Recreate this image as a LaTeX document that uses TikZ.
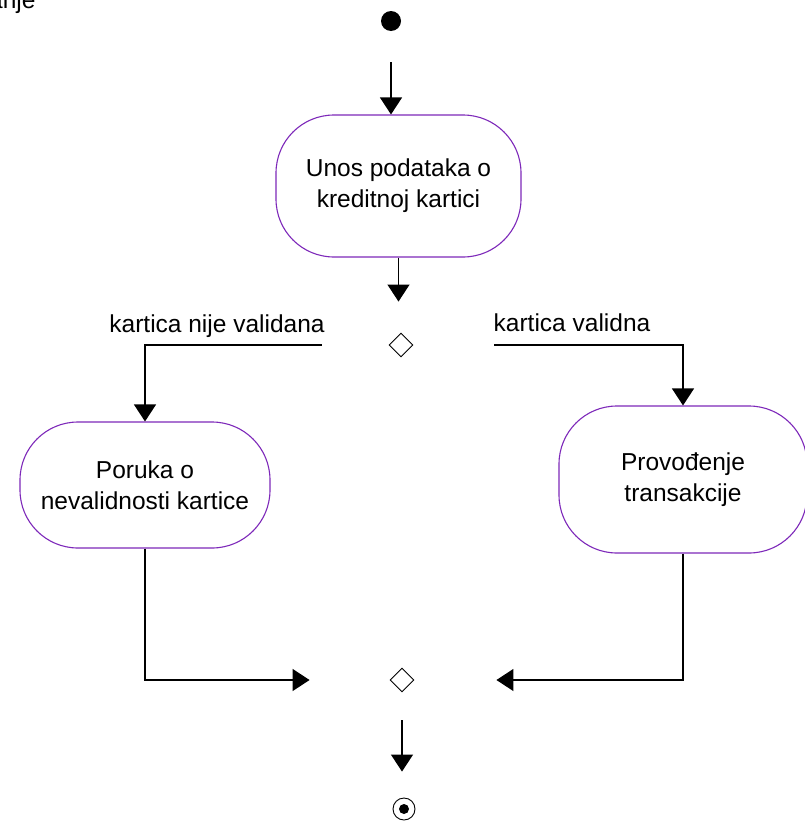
\documentclass[tikz,border=0pt]{standalone}
\usepackage{fontspec}
\setmainfont{Liberation Sans}
\usetikzlibrary{arrows.meta,shapes.geometric}
\definecolor{actborder}{RGB}{125,40,185}
\begin{document}
\begin{tikzpicture}[x=1pt,y=-1pt,
  activity/.style={draw=actborder,line width=1.1pt,rounded corners=58pt,align=center,font=\fontsize{24.5}{31}\selectfont,inner sep=0pt},
  flow/.style={draw=black,line width=1.2pt,-{Triangle[length=17pt,width=22pt]}},
  decision/.style={draw=black,diamond,line width=0.9pt,minimum width=24pt,minimum height=24pt,inner sep=0pt},
  lbl/.style={font=\fontsize{24.5}{30}\selectfont,inner sep=0pt}]
\useasboundingbox (0,0) rectangle (805,822);
\node[lbl,anchor=base west] (title) at (-11,8) {anje};
\node[circle,fill=black,minimum size=20pt,inner sep=0pt] (start) at (391,21) {};
\node[activity,minimum width=245pt,minimum height=142pt] (n1) at (398.5,186) {Unos podataka o\\kreditnoj kartici};
\node[decision] (d1) at (401,345) {};
\node[activity,minimum width=250pt,minimum height=126pt] (n2) at (145,485) {Poruka o\\nevalidnosti kartice};
\node[activity,minimum width=248pt,minimum height=147pt] (n3) at (683,479.5) {Provođenje\\transakcije};
\node[decision] (d2) at (402,680) {};
\node[circle,draw=black,line width=0.9pt,minimum size=22pt,inner sep=0pt] (end) at (404,809) {};
\node[circle,fill=black,minimum size=10pt,inner sep=0pt] (endin) at (end) {};
\node[lbl] (lno) at (217,326) {kartica nije validana};
\node[lbl] (lyes) at (572,323) {kartica validna};
\draw[flow,shorten <=31pt] (start) -- (start |- n1.north);
\draw[flow,shorten >=31pt] (n1.south) -- (n1.south |- d1.north);
\draw[flow,shorten <=67pt] (d1.west) -| (n2.north);
\draw[flow,shorten <=81pt] (d1.east) -| (n3.north);
\draw[flow,shorten >=80pt] (n2.south) |- (d2.west);
\draw[flow,shorten >=82pt] (n3.south) |- (d2.east);
\draw[flow,shorten <=28pt,shorten >=26pt] (d2.south) -- (d2.south |- end.north);
\end{tikzpicture}
\end{document}
